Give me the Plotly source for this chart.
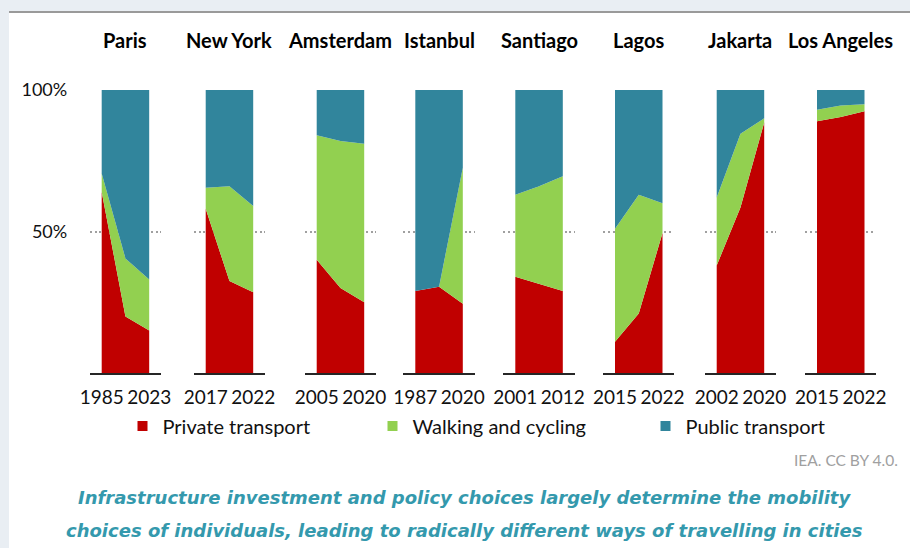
import plotly.graph_objects as go

# Modal share of trips (%) at start year, an intermediate point and end year
cities = ["Paris", "New York", "Amsterdam", "Istanbul", "Santiago", "Lagos", "Jakarta", "Los Angeles"]
start_years = ["1985", "2017", "2005", "1987", "2001", "2015", "2002", "2015"]
end_years = ["2023", "2022", "2020", "2020", "2012", "2022", "2020", "2022"]

private_transport = [[64, 20, 15], [58, 32.5, 28.5], [40, 30, 25], [29, 30.5, 24.5],
                     [34, 31.5, 29], [11, 21, 49.5], [38, 58.5, 88.5], [89, 90.5, 92.5]]
walking_cycling = [[6.5, 20.5, 18], [7.5, 33.5, 30.5], [44, 52, 56], [0, 0, 48],
                   [29, 34.5, 40.5], [40, 42, 10.5], [24, 26, 1.5], [4, 4, 2.5]]
public_transport = [[29.5, 59.5, 67], [34.5, 34, 41], [16, 18, 19], [71, 69.5, 27.5],
                    [37, 34, 30.5], [49, 37, 40], [38, 15.5, 10], [7, 5.5, 5]]

y_ticks = [50, 100]
y_tick_labels = ["50%", "100%"]

series_names = ["Private transport", "Walking and cycling", "Public transport"]
series_colors = ["#c00000", "#92d050", "#31859c"]

W, H = 910, 548
FONT = "Lato, 'Open Sans', sans-serif"

# left edge (px) of each city's area and its width
panel_left = [101.7, 205.7, 316.7, 415.3, 515.3, 615.0, 716.7, 817.0]
panel_w = 47.5
pad = panel_w / 4  # half a category on each side
y_dom = [1 - 373 / H, 1 - 90 / H]

fig = go.Figure()
layout_axes = {}

for i, city in enumerate(cities):
    n = i + 1
    xa = "x" if n == 1 else f"x{n}"
    ya = "y" if n == 1 else f"y{n}"
    steps = [0, 1, 2]
    for vals, name, col in zip((private_transport[i], walking_cycling[i], public_transport[i]),
                               series_names, series_colors):
        fig.add_trace(go.Scatter(
            x=steps, y=vals, xaxis=xa, yaxis=ya, mode="lines",
            stackgroup=f"city{n}", line=dict(width=0, color=col),
            fillcolor=col, showlegend=False, name=name, hoverinfo="skip"))

    x0 = (panel_left[i] - pad) / W
    x1 = (panel_left[i] + panel_w + pad) / W
    first = n == 1
    layout_axes[f"xaxis{n if n > 1 else ''}"] = dict(
        domain=[x0, x1], anchor=ya, range=[-0.5, 2.5],
        tickmode="array", tickvals=[0, 2], ticktext=[start_years[i], end_years[i]],
        showgrid=False, zeroline=False, showline=True, linecolor="#262626", linewidth=2,
        ticks="outside", ticklen=6, tickcolor="rgba(0,0,0,0)",
        tickfont=dict(family=FONT, size=19, color="#111111"), fixedrange=True)
    layout_axes[f"yaxis{n if n > 1 else ''}"] = dict(
        domain=y_dom, anchor=xa, range=[0, 100],
        tickmode="array", tickvals=y_ticks, ticktext=y_tick_labels,
        showticklabels=first, showgrid=True, griddash="2px,2.7px",
        gridcolor="#a0a0a0", gridwidth=1.5, zeroline=False, showline=False,
        ticks="outside" if first else "", ticklen=18, tickcolor="rgba(0,0,0,0)",
        tickfont=dict(family=FONT, size=18, color="#111111"), fixedrange=True)

    fig.add_annotation(text=f"<b>{city}</b>", xref=f"{xa} domain", yref="paper",
                       x=0.5, y=1 - 40 / H, xanchor="center", yanchor="middle",
                       showarrow=False, font=dict(family=FONT, size=20, color="#000000"))

# legend: one entry per mode, each in its own legend box
legend_x = [122.5, 372.5, 645.5]
for k, (name, col) in enumerate(zip(series_names, series_colors)):
    lg = "legend" if k == 0 else f"legend{k + 1}"
    fig.add_trace(go.Scatter(
        x=[None], y=[None], mode="markers", name=name,
        marker=dict(symbol="square", size=10, color=col),
        legend=lg, showlegend=True))
    layout_axes[lg] = dict(
        x=legend_x[k] / W, y=1 - 426 / H, xanchor="left", yanchor="middle",
        orientation="h", bgcolor="rgba(0,0,0,0)", borderwidth=0,
        font=dict(family=FONT, size=20, color="#111111"), itemclick=False)

fig.add_annotation(text="IEA. CC BY 4.0.", xref="paper", yref="paper",
                   x=900 / W, y=1 - 460 / H, xanchor="right", yanchor="middle",
                   showarrow=False, font=dict(family=FONT, size=15.5, color="#a0a0a0"))

caption = ["Infrastructure investment and policy choices largely determine the mobility",
           "choices of individuals, leading to radically different ways of travelling in cities"]
for line, yc in zip(caption, (497, 530)):
    fig.add_annotation(text=f"<b><i>{line}</i></b>", xref="paper", yref="paper",
                       x=465 / W, y=1 - yc / H, xanchor="center", yanchor="middle",
                       showarrow=False, font=dict(family="'DejaVu Sans', sans-serif", size=18,
                                                  color="#3499ad"))

# white card with a grey top rule
fig.add_shape(type="rect", xref="paper", yref="paper", x0=9 / W, x1=1.0, y0=0, y1=1 - 12 / H,
              fillcolor="#ffffff", line=dict(width=0), layer="below")
fig.add_shape(type="line", xref="paper", yref="paper", x0=9 / W, x1=1.0,
              y0=1 - 12 / H, y1=1 - 12 / H, line=dict(color="#9a9a9a", width=2), layer="below")

fig.update_layout(
    width=W, height=H, margin=dict(l=0, r=0, t=0, b=0, autoexpand=False),
    paper_bgcolor="#e9eef3", plot_bgcolor="rgba(0,0,0,0)",
    showlegend=True, **layout_axes)

fig.write_html("out.html", config={"displayModeBar": False})
